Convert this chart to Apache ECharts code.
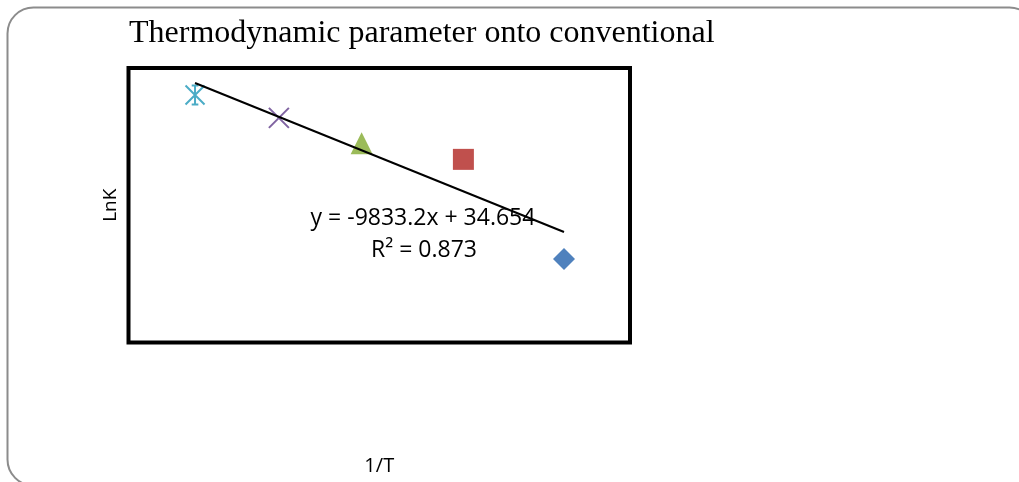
<!DOCTYPE html>
<html>
<head>
<meta charset="utf-8">
<script src="https://cdn.jsdelivr.net/npm/echarts@6/dist/echarts.min.js"></script>
<style>
  html, body { margin: 0; padding: 0; background: #fff; }
  #main { width: 1019px; height: 482px; }
</style>
</head>
<body>
<div id="main"></div>
<script>
// 1/T values and LnK values
const seriesNames = ['s1', 's2', 's3', 's4', 's5'];
const invT = [0.003330, 0.003240, 0.003149, 0.003075, 0.003000];
const lnK = [1.321, 3.491, 3.841, 4.395, 4.893];
const colors = ['#4f81bd', '#c0504d', '#9bbb59', '#8064a2', '#4bacc6'];

// trendline as printed in the chart
const slope = -9833.2;
const intercept = 34.654;
const r2 = 0.873;

const starPath = 'path://M-1,-1L1,1M-1,1L1,-1M0,-1L0,1M-0.35,-1L0.35,-1M-0.35,1L0.35,1';
const crossPath = 'path://M-1,-1L1,1M-1,1L1,-1';
const symbols = ['diamond', 'rect', 'triangle', crossPath, starPath];
const sizes = [22, 21, 22, 20, 19];

const chart = echarts.init(document.getElementById('main'));

const series = seriesNames.map((name, i) => {
  const stroked = i >= 3;
  return {
    name: name,
    type: 'scatter',
    data: [[invT[i], lnK[i]]],
    symbol: symbols[i],
    symbolSize: sizes[i],
    itemStyle: stroked
      ? { color: 'transparent', borderColor: colors[i], borderWidth: 2, opacity: 1 }
      : { color: colors[i], opacity: 1 },
    z: 3
  };
});

const xMin = Math.min(...invT);
const xMax = Math.max(...invT);
series.push({
  name: 'trend',
  type: 'line',
  data: [[xMin, slope * xMin + intercept], [xMax, slope * xMax + intercept]],
  symbol: 'none',
  lineStyle: { color: '#000', width: 2 },
  z: 4
});

chart.setOption({
  animation: false,
  title: {
    text: 'Thermodynamic parameter onto conventional',
    left: 124,
    top: 13,
    textStyle: {
      fontFamily: 'Liberation Serif',
      fontWeight: 'normal',
      fontSize: 32,
      color: '#000'
    }
  },
  grid: {
    left: 128.5,
    top: 68,
    width: 501.5,
    height: 274.5,
    outerBoundsMode: 'none',
    containLabel: false,
    show: true,
    borderColor: '#000',
    borderWidth: 4,
    backgroundColor: 'transparent'
  },
  xAxis: {
    type: 'value',
    min: 0.0029405,
    max: 0.003389,
    name: '1/T',
    nameLocation: 'middle',
    nameGap: 114,
    nameTextStyle: { fontFamily: 'Open Sans', fontSize: 20, color: '#000' },
    axisLine: { show: false },
    axisTick: { show: false },
    axisLabel: { show: false },
    splitLine: { show: false }
  },
  yAxis: {
    type: 'value',
    min: -0.498,
    max: 5.481,
    name: 'LnK',
    nameLocation: 'middle',
    nameGap: 8,
    nameTextStyle: { fontFamily: 'Open Sans', fontSize: 19, color: '#000' },
    axisLine: { show: false },
    axisTick: { show: false },
    axisLabel: { show: false },
    splitLine: { show: false }
  },
  graphic: [
    {
      type: 'rect',
      shape: { x: 7.5, y: 7.5, width: 1028, height: 478, r: 26 },
      style: { fill: 'none', stroke: '#8c8c8c', lineWidth: 2 },
      silent: true,
      z: -1
    },
    {
      type: 'text',
      x: 423,
      y: 218,
      style: {
        text: 'y = ' + slope + 'x + ' + intercept,
        fontFamily: 'Open Sans',
        fontSize: 23,
        fill: '#000',
        align: 'center',
        verticalAlign: 'middle'
      },
      z: 10
    },
    {
      type: 'text',
      x: 424,
      y: 250,
      style: {
        text: 'R² = ' + r2,
        fontFamily: 'Open Sans',
        fontSize: 23,
        fill: '#000',
        align: 'center',
        verticalAlign: 'middle'
      },
      z: 10
    }
  ],
  series: series
});
</script>
</body>
</html>
